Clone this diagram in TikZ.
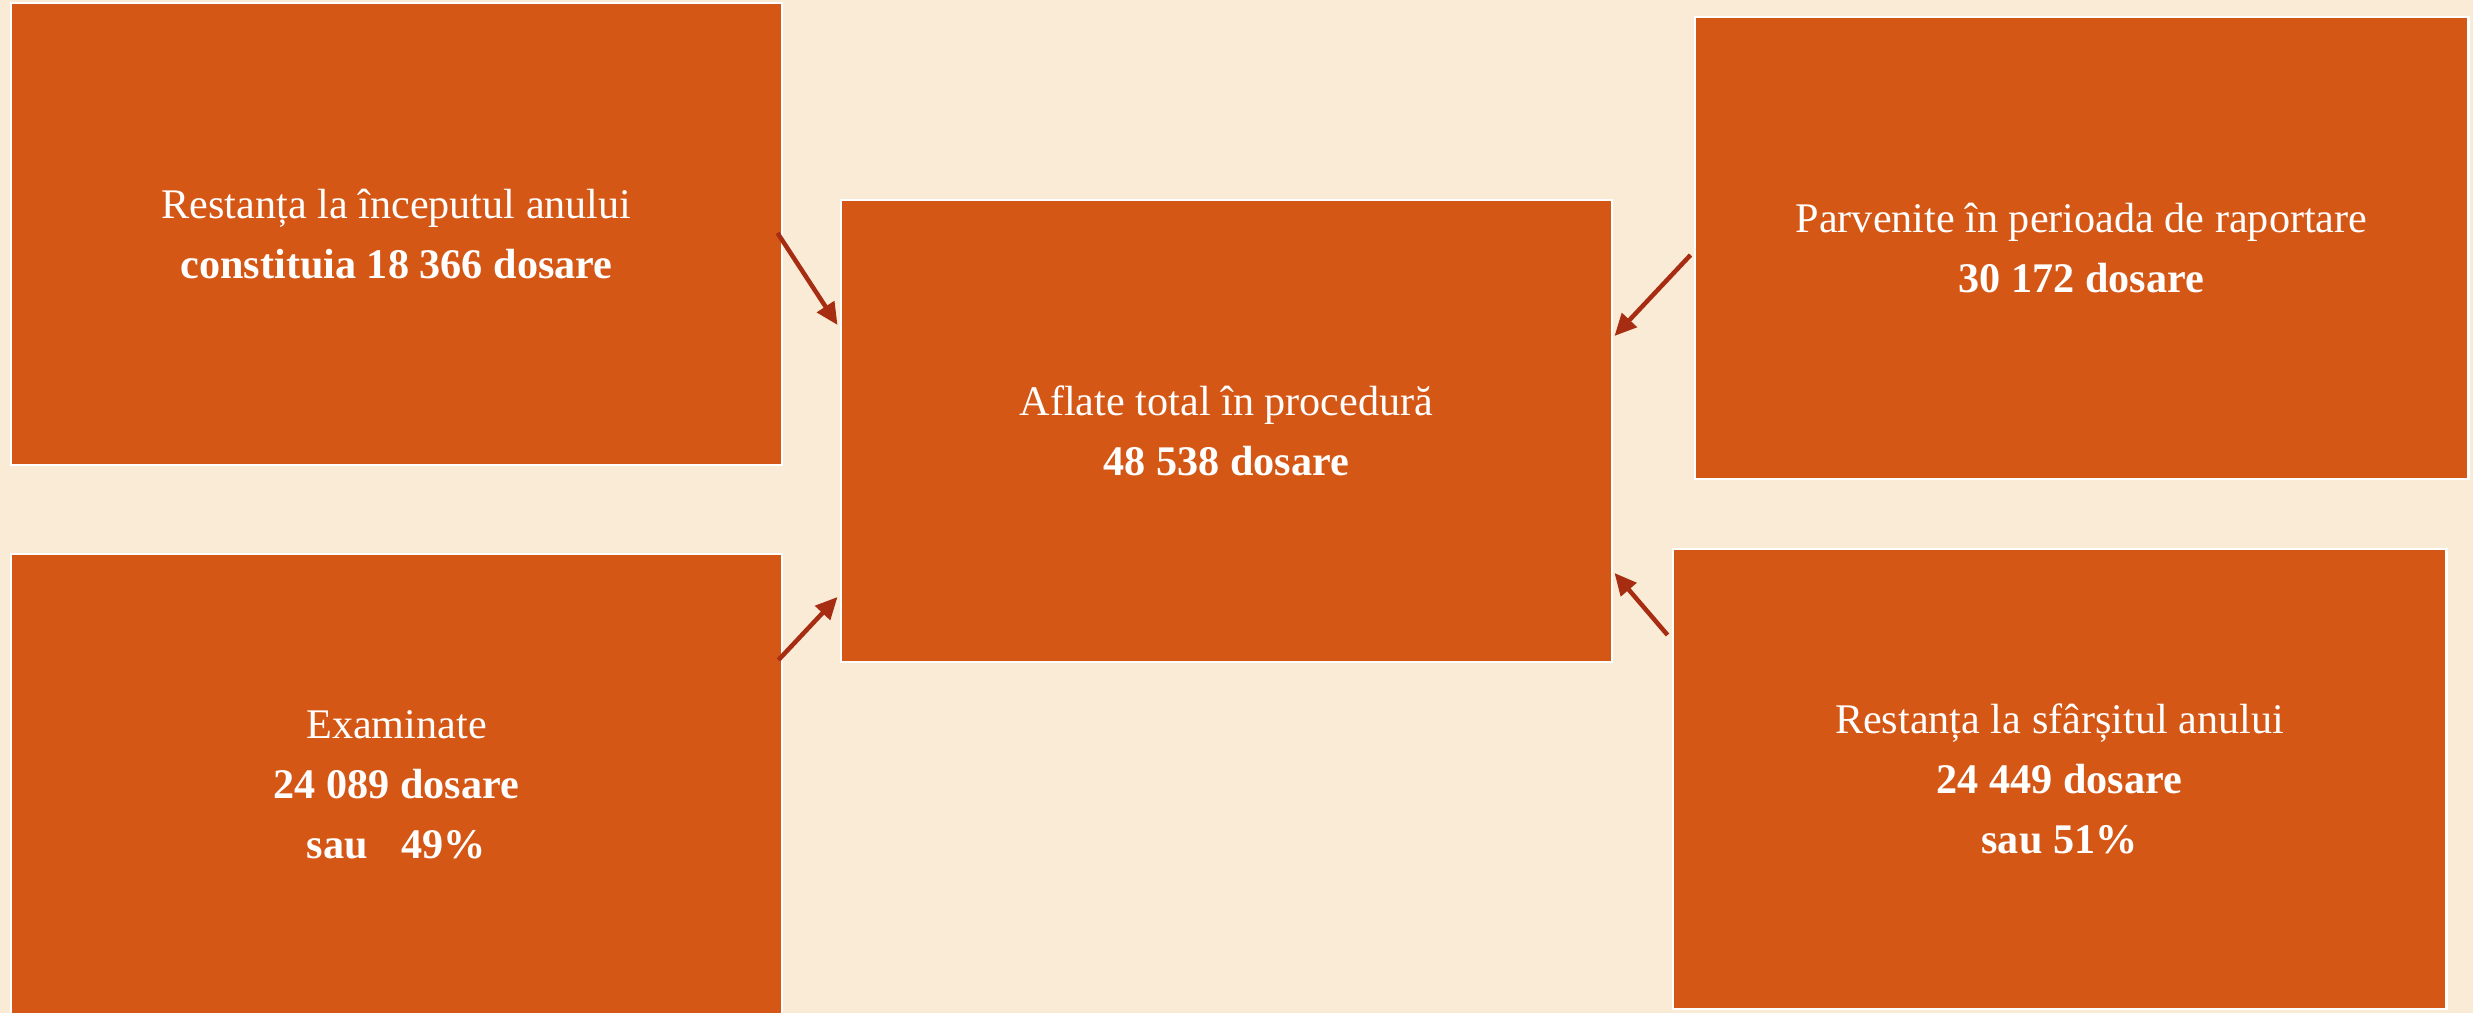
\documentclass[tikz,border=0pt]{standalone}
\usepackage{fontspec}
\setmainfont{Liberation Serif}
\usetikzlibrary{arrows.meta,calc}
\definecolor{bg}{RGB}{250,235,215}
\definecolor{boxfill}{RGB}{213,87,22}
\definecolor{arrowc}{RGB}{167,45,18}
\tikzset{
  box/.style={draw=white, line width=0.025cm, fill=boxfill, text=white,
    inner sep=0pt, minimum width=7.71cm, minimum height=4.62cm, align=center,
    font=\fontsize{12pt}{17pt}\selectfont},
  arr/.style={draw=arrowc, line width=0.045cm,
    -{Triangle[length=0.22cm, width=0.2cm]}}
}
\begin{document}
\begin{tikzpicture}[x=0.01cm, y=-0.01cm]
\useasboundingbox (0,0) rectangle (2473,1013);
\fill[bg] (0,0) rectangle (2473,1013);
\node[box] (tl) at (396.5,234) {Restanța la începutul anului\\ \textbf{constituia 18 366 dosare}};
\node[box] (c) at (1226.5,431) {Aflate total în procedură\\ \textbf{48 538 dosare}};
\node[box, minimum width=7.73cm] (tr) at (2081.5,248) {Parvenite în perioada de raportare\\ \textbf{30 172 dosare}};
\node[box] (bl) at (396.5,785) {Examinate\\ \textbf{24 089 dosare}\\ \textbf{sau\hspace{0.8em}49\%}};
\node[box, minimum width=7.73cm, minimum height=4.60cm] (br) at (2059.5,779) {Restanța la sfârșitul anului\\ \textbf{24 449 dosare}\\ \textbf{sau 51\%}};
\draw[arr] ($(tl.east)+(-6,-1)$) -- ($(c.west)+(-2,-106)$);
\draw[arr] ($(bl.east)+(-5,-125)$) -- ($(c.west)+(-2,166)$);
\draw[arr] ($(tr.west)+(-3,7)$) -- ($(c.east)+(1,-95)$);
\draw[arr] ($(br.west)+(-4,-144)$) -- ($(c.east)+(1,142)$);
\end{tikzpicture}
\end{document}
